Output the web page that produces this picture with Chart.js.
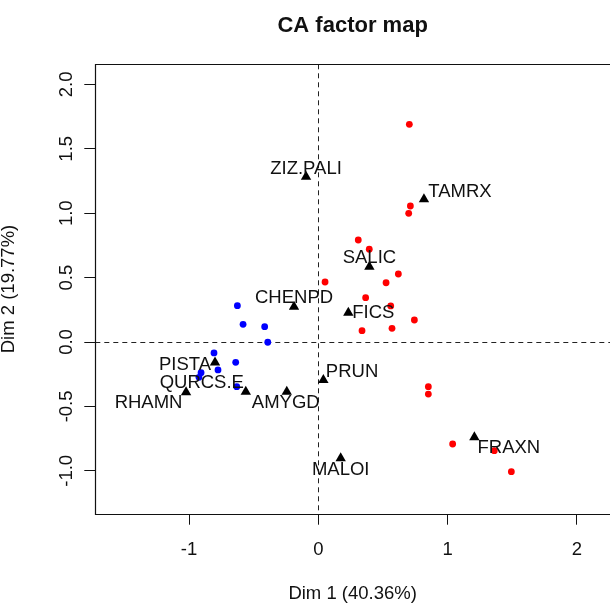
<!DOCTYPE html>
<html>
<head>
<meta charset="utf-8">
<script src="https://cdn.jsdelivr.net/npm/chart.js@4.4.0/dist/chart.umd.min.js"></script>
<style>
  html, body { margin: 0; padding: 0; background: #fff; }
</style>
</head>
<body>
<canvas id="ca-chart" width="610" height="605"></canvas>
<script>
// column points (species), drawn as black triangles with labels
const colLabels = ["ZIZ.PALI", "TAMRX", "SALIC", "FICS", "CHENPD", "PISTA", "QURCS.E", "RHAMN", "AMYGD", "PRUN", "MALOI", "FRAXN"];
const colDim1 = [-0.095, 0.817, 0.395, 0.232, -0.188, -0.799, -0.561, -1.023, -0.244, 0.039, 0.173, 1.207];
const colDim2 = [1.283, 1.108, 0.585, 0.228, 0.274, -0.159, -0.386, -0.391, -0.386, -0.295, -0.903, -0.740];

// row points, red group
const redDim1 = [0.704, 0.712, 0.699, 0.309, 0.394, 0.619, 0.524, 0.052, 0.366, 0.560, 0.743, 0.338, 0.570, 0.851, 0.851, 1.039, 1.361, 1.493];
const redDim2 = [1.690, 1.056, 0.999, 0.792, 0.720, 0.528, 0.460, 0.466, 0.344, 0.280, 0.171, 0.088, 0.106, -0.347, -0.404, -0.792, -0.844, -1.007];

// row points, blue group
const blueDim1 = [-0.626, -0.582, -0.415, -0.391, -0.807, -0.639, -0.776, -0.907, -0.923, -0.631];
const blueDim2 = [0.282, 0.137, 0.119, -0.002, -0.085, -0.158, -0.217, -0.238, -0.274, -0.347];

const xTicks = [-1, 0, 1, 2];
const yTicks = [-1.0, -0.5, 0.0, 0.5, 1.0, 1.5, 2.0];

// where each label sits relative to its triangle (px)
const labelShift = [[0, -8], [36, -7.6], [0, -9], [25, 0.6], [0, -9], [-30, 2.5], [-44, -8.4], [-37.5, 10.4], [-1, 11.6], [28.7, -7.7], [0, 11.7], [34.5, 11]];

const toPoints = (xs, ys) => xs.map((x, i) => ({ x: x, y: ys[i] }));

Chart.defaults.font.family = "'Liberation Sans', Arial, sans-serif";
Chart.defaults.color = "#111";

const framePlugin = {
    id: "frame",
    beforeDatasetsDraw(chart) {
        const { ctx, chartArea: a, scales } = chart;
        const x0 = Math.round(scales.x.getPixelForValue(0)) + 0.5;
        const y0 = Math.round(scales.y.getPixelForValue(0)) + 0.5;
        ctx.save();
        ctx.strokeStyle = "#222";
        ctx.lineWidth = 1;
        ctx.setLineDash([5, 4]);
        ctx.beginPath();
        ctx.moveTo(x0, a.top);
        ctx.lineTo(x0, a.bottom);
        ctx.moveTo(a.left, y0);
        ctx.lineTo(chart.width, y0);
        ctx.stroke();
        ctx.restore();
    },
    afterDatasetsDraw(chart) {
        const { ctx, chartArea: a } = chart;
        // labels for the triangles
        const meta = chart.getDatasetMeta(2);
        ctx.save();
        ctx.font = "18.5px 'Liberation Sans', Arial, sans-serif";
        ctx.fillStyle = "#111";
        ctx.textAlign = "center";
        ctx.textBaseline = "middle";
        meta.data.forEach((pt, i) => {
            ctx.fillText(colLabels[i], pt.x + labelShift[i][0], pt.y + labelShift[i][1]);
        });
        // box: left, top, bottom (right side runs off the picture)
        const l = Math.round(a.left) + 0.5, t = Math.round(a.top) + 0.5, b = Math.round(a.bottom) + 0.5;
        ctx.strokeStyle = "#111";
        ctx.lineWidth = 1.2;
        ctx.beginPath();
        ctx.moveTo(chart.width + 5, t);
        ctx.lineTo(l, t);
        ctx.lineTo(l, b);
        ctx.lineTo(chart.width + 5, b);
        ctx.stroke();
        ctx.restore();
    }
};

new Chart(document.getElementById("ca-chart"), {
    type: "scatter",
    data: {
        datasets: [
            {
                label: "rows (red)",
                data: toPoints(redDim1, redDim2),
                backgroundColor: "#ff0000",
                borderWidth: 0,
                pointRadius: 3.4
            },
            {
                label: "rows (blue)",
                data: toPoints(blueDim1, blueDim2),
                backgroundColor: "#0000ff",
                borderWidth: 0,
                pointRadius: 3.4
            },
            {
                label: "columns",
                data: toPoints(colDim1, colDim2),
                backgroundColor: "#000",
                borderWidth: 0,
                pointStyle: "triangle",
                pointRadius: 6
            }
        ]
    },
    options: {
        responsive: false,
        animation: false,
        layout: { padding: 0, autoPadding: false },
        plugins: {
            legend: { display: false },
            tooltip: { enabled: false },
            title: {
                display: true,
                text: "CA factor map",
                fullSize: false,
                color: "#111",
                font: { size: 22, weight: "bold" },
                padding: { top: 12.8, bottom: 25.1 }
            }
        },
        scales: {
            x: {
                type: "linear",
                min: -1.725,
                max: 2.256,
                afterBuildTicks: (s) => { s.ticks = xTicks.map((v) => ({ value: v })); },
                afterFit: (s) => {
                    s.height = 91.3;
                    s.paddingLeft = 0;
                    s.paddingRight = 0;
                },
                ticks: {
                    font: { size: 18.5 },
                    padding: 14.5,
                    callback: (v) => String(v)
                },
                grid: { drawOnChartArea: false, drawTicks: true, tickLength: 11, color: "#111" },
                border: { display: false },
                title: {
                    display: true,
                    text: "Dim 1 (40.36%)",
                    font: { size: 18.5 },
                    padding: { top: 0, bottom: 0 }
                }
            },
            y: {
                type: "linear",
                min: -1.333,
                max: 2.156,
                afterBuildTicks: (s) => { s.ticks = yTicks.map((v) => ({ value: v })); },
                afterFit: (s) => {
                    s.width = 95.3;
                    s.paddingTop = 0;
                    s.paddingBottom = 0;
                },
                ticks: {
                    font: { size: 18.5 },
                    minRotation: 90,
                    maxRotation: 90,
                    crossAlign: "center",
                    padding: 1,
                    callback: (v) => v.toFixed(1)
                },
                grid: { drawOnChartArea: false, drawTicks: true, tickLength: 11, color: "#111" },
                border: { display: false },
                title: {
                    display: true,
                    text: "Dim 2 (19.77%)",
                    font: { size: 18.5, lineHeight: 1 },
                    padding: { top: 0, bottom: 0 }
                }
            }
        }
    },
    plugins: [framePlugin]
});
</script>
</body>
</html>
